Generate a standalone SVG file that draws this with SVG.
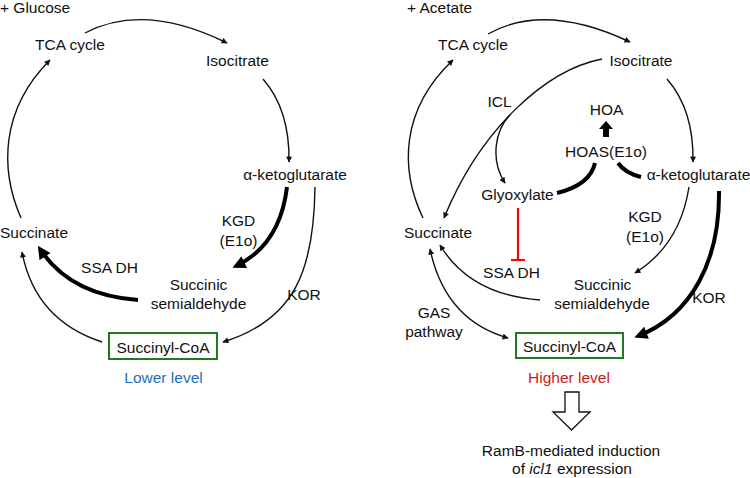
<svg xmlns="http://www.w3.org/2000/svg" width="750" height="478" viewBox="0 0 750 478">
<defs>
<style>
text{font-family:"Liberation Sans",Arial,sans-serif;font-size:15.5px;fill:#111;text-anchor:middle}
.l{text-anchor:start}
.thin{fill:none;stroke:#111;stroke-width:1.4}
.thick{fill:none;stroke:#000;stroke-width:4}
.box{fill:#fff;stroke:#1f7a1f;stroke-width:2}
</style>
<marker id="ah" viewBox="0 0 10 10" refX="9" refY="5" markerWidth="7" markerHeight="6" markerUnits="userSpaceOnUse" orient="auto-start-reverse"><path d="M0,0 L10,5 L0,10 Z" fill="#111"/></marker>
<marker id="ahT" viewBox="0 0 10 10" refX="7" refY="5" markerWidth="14" markerHeight="13" markerUnits="userSpaceOnUse" orient="auto"><path d="M0,0 L10,5 L0,10 Z" fill="#000"/></marker>
</defs>
<g id="connectors">
<!-- left panel -->
<path class="thin" d="M85,33 Q144,2 227,43" marker-end="url(#ah)"/>
<path class="thin" d="M263,79 Q290,110 289,162" marker-end="url(#ah)"/>
<path class="thin" d="M21,218 C0,170 0,110 50,60" marker-end="url(#ah)"/>
<path class="thick" d="M287,187 Q280,245 236,266" marker-end="url(#ahT)"/>
<path class="thin" d="M315,187 C314,270 295,320 223,342" marker-end="url(#ah)"/>
<path class="thick" d="M138,300 Q70,295 40,249" marker-end="url(#ahT)"/>
<path class="thin" d="M102,342 Q35,320 22,252" marker-end="url(#ah)"/>
<!-- right panel -->
<path class="thin" d="M488,34 Q545,2 630,42" marker-end="url(#ah)"/>
<path class="thin" d="M667,79 Q694,110 693,162" marker-end="url(#ah)"/>
<path class="thin" d="M423,218 C400,170 400,110 453,60" marker-end="url(#ah)"/>
<path class="thin" d="M602,59 C545,70 480,130 444,218" marker-end="url(#ah)"/>
<path class="thin" d="M510,115 C495,130 490,160 505,183" marker-end="url(#ah)"/>
<path class="thick" d="M557,193 Q590,185 595,163"/>
<path class="thick" d="M618,163 Q625,173 641,177"/>
<path d="M603,137 L603,129 L599,129 L606,121 L613,129 L609,129 L609,137 Z" fill="#000"/>
<path d="M518,208 L518,260 M511,260 L525,260" fill="none" stroke="#f00" stroke-width="2.2"/>
<path class="thin" d="M689,187 Q680,245 635,273" marker-end="url(#ah)"/>
<path class="thick" d="M719,191 C720,260 692,315 638,336" marker-end="url(#ahT)"/>
<path class="thin" d="M540,300 Q470,295 440,245" marker-end="url(#ah)"/>
<path class="thin" d="M430,249 Q445,320 508,338" marker-start="url(#ah)" marker-end="url(#ah)"/>
<path d="M565,392 L579,392 L579,412 L590,412 L571.5,430 L553,412 L565,412 Z" fill="#fff" stroke="#111" stroke-width="1.3"/>
</g>
<g id="left-title"><text class="l" x="0" y="13">+ Glucose</text></g>
<g id="L-tca"><text x="70" y="49.5">TCA cycle</text></g>
<g id="L-isocitrate"><text x="237.5" y="65.5">Isocitrate</text></g>
<g id="L-akg"><text x="295" y="179.5">α-ketoglutarate</text></g>
<g id="L-succinate"><text x="34" y="237.5">Succinate</text></g>
<g id="L-kgd"><text x="238.5" y="225.5">KGD</text><text x="238.5" y="245.5">(E1o)</text></g>
<g id="L-ssadh"><text x="109.5" y="272.5">SSA DH</text></g>
<g id="L-ssa"><text x="198.5" y="289.5">Succinic</text><text x="198.5" y="308.5">semialdehyde</text></g>
<g id="L-kor"><text x="304" y="299.5">KOR</text></g>
<g id="L-succoa"><rect class="box" x="109" y="333" width="108" height="26"/><text x="163" y="352.5">Succinyl-CoA</text></g>
<g id="L-level"><text x="163.5" y="382.5" style="fill:#1f6fbf">Lower level</text></g>
<g id="right-title"><text class="l" x="407" y="13">+ Acetate</text></g>
<g id="R-tca"><text x="473" y="49.5">TCA cycle</text></g>
<g id="R-isocitrate"><text x="641" y="65.5">Isocitrate</text></g>
<g id="R-icl"><text x="499.5" y="106.5">ICL</text></g>
<g id="R-hoa"><text x="606.5" y="114.5">HOA</text></g>
<g id="R-hoas"><text x="606" y="156.5">HOAS(E1o)</text></g>
<g id="R-akg"><text x="698.5" y="179.5">α-ketoglutarate</text></g>
<g id="R-glyoxylate"><text x="517.5" y="199.5">Glyoxylate</text></g>
<g id="R-succinate"><text x="438" y="237.5">Succinate</text></g>
<g id="R-kgd"><text x="645" y="221.5">KGD</text><text x="645" y="241.5">(E1o)</text></g>
<g id="R-ssadh"><text x="511.5" y="277.5">SSA DH</text></g>
<g id="R-ssa"><text x="602.5" y="289.5">Succinic</text><text x="602" y="308.5">semialdehyde</text></g>
<g id="R-kor"><text x="709" y="302.5">KOR</text></g>
<g id="R-gas"><text x="434" y="317.5">GAS</text><text x="434" y="336.5">pathway</text></g>
<g id="R-succoa"><rect class="box" x="516" y="333" width="107" height="25"/><text x="569.5" y="352">Succinyl-CoA</text></g>
<g id="R-level"><text x="569" y="382.5" style="fill:#cc1a1a">Higher level</text></g>
<g id="R-ramb"><text x="571" y="455.5">RamB-mediated induction</text><text x="572" y="473.5">of <tspan font-style="italic">icl1</tspan> expression</text></g>
</svg>
